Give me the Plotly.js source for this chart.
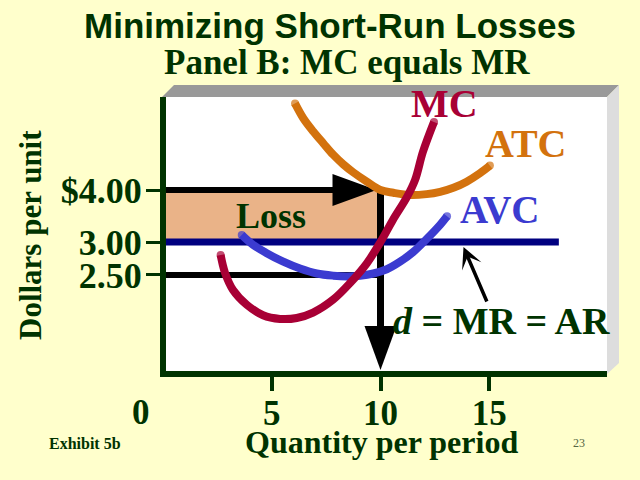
<!DOCTYPE html>
<html><head><meta charset="utf-8">
<script src="https://cdn.plot.ly/plotly-3.0.1.min.js"></script>
<style>html,body{margin:0;padding:0;background:#FFFFCC;}#chart{width:640px;height:480px;}</style>
</head><body><div id="chart"></div>
<script>
// ---------- data ----------
const Q_STAR = 10;      // output where MC = MR
const P_ATC = 4.00;     // average total cost at Q*
const P_MR = 3.00;      // price = MR = AR
const P_AVC = 2.50;     // average variable cost at Q*

const mcQ = [2.65, 2.85, 3.22, 3.85, 4.60, 5.38, 6.15, 6.90, 7.82, 8.60, 9.38, 10.0, 10.57, 11.22, 11.59, 11.95, 12.46];
const mcP = [2.79, 2.53, 2.30, 2.12, 2.00, 1.96, 1.97, 2.03, 2.18, 2.39, 2.67, 3.00, 3.39, 3.85, 4.23, 4.94, 5.83];

const atcQ = [6.07, 6.45, 6.91, 7.37, 7.83, 8.29, 8.75, 9.37, 10.0, 10.59, 11.36, 12.12, 12.74, 13.35, 13.96, 14.57, 15.03];
const atcP = [6.46, 5.95, 5.53, 5.18, 4.86, 4.61, 4.41, 4.19, 4.00, 3.94, 3.89, 3.91, 3.96, 4.05, 4.19, 4.39, 4.58];

const avcQ = [3.62, 4.15, 4.77, 5.53, 6.30, 7.07, 7.83, 8.45, 9.06, 9.67, 10.29, 10.90, 11.51, 12.12, 12.74, 13.06];
const avcP = [3.12, 2.95, 2.82, 2.69, 2.59, 2.52, 2.49, 2.48, 2.49, 2.52, 2.58, 2.69, 2.84, 3.05, 3.30, 3.46];

const mrQ = [0, 18.2];
const mrP = [P_MR, P_MR];

const xTickVals = [5, 10, 15];
const xTickText = ['5', '10', '15'];
const originLabel = '0';
const yTickVals = [P_AVC, P_MR, P_ATC];
const yTickText = ['2.50', '3.00', '$4.00'];

// ---------- layout geometry ----------
const W = 640, H = 480;
const L = 166, R = 607, T = 97, B = 371;
const xRange = [0.138, 20.414];
const yRange = [0.16702, 0.82568];           // log10 of dollars
const pxPerQ = (R - L) / (xRange[1] - xRange[0]);
const pxPerDec = (B - T) / (yRange[1] - yRange[0]);
const dq = px => px / pxPerQ;                    // pixel length -> quantity units
const pf = px => Math.pow(10, px / pxPerDec);    // pixel length -> price factor (log axis)
const fx = x => (x - L) / (R - L);
const fy = y => (B - y) / (B - T);

const GREEN = '#003300', MCC = '#A80035', ATCC = '#D3720E', AVCC = '#3B3BD0', NAVY = '#000080';
const SERIF = 'Liberation Serif, Times New Roman, serif';

// arrowheads derived from data points
const HEAD_LEN = 44, HEAD_HALF = 16;
const hTip = Q_STAR - dq(4);
const hBase = hTip - dq(HEAD_LEN);
const vTip = Math.pow(10, yRange[0]) * pf(1);
const vBase = vTip * pf(HEAD_LEN);

function capSizes(n) { return Array.from({length: n}, (_, i) => (i === 0 || i === n - 1) ? 8 : 0); }
function curve(xs, ys, color) {
  return {x: xs, y: ys, mode: 'lines+markers', line: {color: color, width: 8, shape: 'spline'},
          marker: {color: color, size: capSizes(xs.length), line: {width: 0}}};
}

const traces = [
  {x: [0, Q_STAR, Q_STAR, 0, 0], y: [P_MR, P_MR, P_ATC, P_ATC, P_MR], fill: 'toself', fillcolor: '#EAB388', mode: 'lines', line: {width: 0}},
  {x: [0, Q_STAR], y: [P_AVC, P_AVC], mode: 'lines', line: {color: '#000', width: 6}},
  {x: [0, hBase + dq(5)], y: [P_ATC, P_ATC], mode: 'lines', line: {color: '#000', width: 6}},
  {x: [Q_STAR, Q_STAR], y: [P_ATC * pf(3), vBase / pf(2)], mode: 'lines', line: {color: '#000', width: 7}},
  {x: [hBase, hTip, hBase, hBase], y: [P_ATC * pf(HEAD_HALF), P_ATC, P_ATC / pf(HEAD_HALF), P_ATC * pf(HEAD_HALF)], fill: 'toself', fillcolor: '#000', mode: 'lines', line: {width: 0}},
  {x: [Q_STAR - dq(HEAD_HALF), Q_STAR, Q_STAR + dq(HEAD_HALF), Q_STAR - dq(HEAD_HALF)], y: [vBase, vTip, vBase, vBase], fill: 'toself', fillcolor: '#000', mode: 'lines', line: {width: 0}},
  {x: mrQ, y: mrP, mode: 'lines', line: {color: NAVY, width: 7}},
  curve(avcQ, avcP, AVCC),
  curve(atcQ, atcP, ATCC),
  curve(mcQ, mcP, MCC)
];

function ann(text, x, y, size, color, extra) {
  return Object.assign({text: text, xref: 'paper', yref: 'paper', x: fx(x), y: fy(y), xanchor: 'center', yanchor: 'middle',
    showarrow: false, font: {family: SERIF, size: size, color: color, weight: 'bold'}}, extra || {});
}

const annotations = [
  ann('Panel B: MC equals MR', 347, 62, 35, GREEN),
  ann('MC', 444, 103, 40, MCC),
  ann('ATC', 525, 143, 40, ATCC),
  ann('AVC', 499, 209, 39, AVCC),
  ann('<i>d</i> = MR = AR', 501, 321, 38, GREEN),
  ann('Loss', 271, 216, 36, GREEN),
  ann(originLabel, 141, 412, 35, GREEN),
  ann('Exhibit 5b', 85, 443, 16, GREEN),
  ann('23', 579, 443, 12, '#556644', {font: {family: SERIF, size: 12, color: '#556644'}}),
  ann('Dollars per unit', 31, 235, 31, GREEN, {textangle: -90}),
  ann('Quantity per period', 381, 442, 32, GREEN),
  {xref: 'x', yref: 'y', x: Q_STAR + dq(83), y: Math.log10(P_MR / pf(5)), ax: 24, ay: 56, text: '', showarrow: true,
   arrowhead: 3, arrowsize: 1.0, arrowwidth: 3.5, arrowcolor: '#000'}
];

const shapes = [
  {type: 'path', xref: 'paper', yref: 'paper', layer: 'below', line: {width: 0}, fillcolor: '#999999',
   path: `M ${fx(162)},${fy(97)} L ${fx(174)},${fy(85)} L ${fx(619)},${fy(85)} L ${fx(607)},${fy(97)} Z`},
  {type: 'path', xref: 'paper', yref: 'paper', layer: 'below', line: {width: 0}, fillcolor: '#DDDDDD',
   path: `M ${fx(607)},${fy(97)} L ${fx(619)},${fy(85)} L ${fx(619)},${fy(363)} L ${fx(607)},${fy(374)} Z`}
];

const layout = {
  width: W, height: H,
  paper_bgcolor: '#FFFFCC', plot_bgcolor: '#FFFFFF',
  margin: {l: L, r: W - R, t: T, b: H - B, pad: 0},
  showlegend: false, hovermode: false,
  title: {text: 'Minimizing Short-Run Losses', xref: 'container', yref: 'container', x: 330 / W, y: 1 - 26 / H,
          xanchor: 'center', yanchor: 'middle', font: {family: 'Liberation Sans, Arial, sans-serif', size: 35, color: GREEN, weight: 'bold'}},
  xaxis: {range: xRange, tickvals: xTickVals, ticktext: xTickText, ticks: 'outside', ticklen: 14, tickwidth: 4, tickcolor: GREEN,
          ticklabelstandoff: -8,
          showgrid: false, zeroline: false, showline: true, linewidth: 6, linecolor: GREEN,
          tickfont: {family: SERIF, size: 35, color: GREEN, weight: 'bold'}},
  yaxis: {type: 'log', range: yRange, tickvals: yTickVals, ticktext: yTickText, ticks: 'outside', ticklen: 14, tickwidth: 3, tickcolor: GREEN,
          ticklabelstandoff: -3,
          showgrid: false, zeroline: false, showline: true, linewidth: 6, linecolor: GREEN,
          tickfont: {family: SERIF, size: 36, color: GREEN, weight: 'bold'}},
  annotations: annotations,
  shapes: shapes
};

Plotly.newPlot('chart', traces, layout, {staticPlot: true, displayModeBar: false});
</script>
</body></html>
